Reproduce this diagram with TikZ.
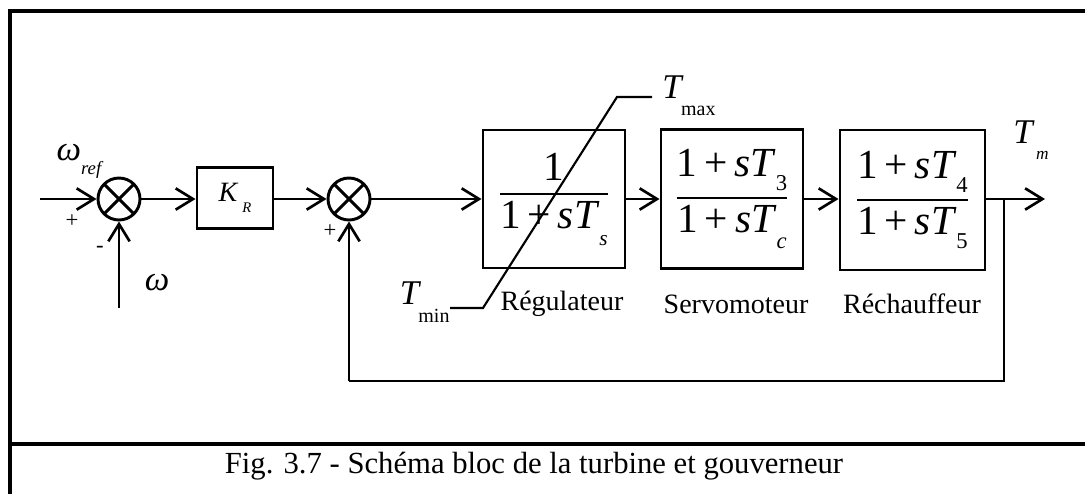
\documentclass[tikz,border=0pt]{standalone}
\usepackage{fontspec}
\setmainfont{Liberation Serif}
\usetikzlibrary{arrows.meta}
\newcommand\sbs[3][-0.3em]{\raisebox{#1}{\fontsize{#2}{#2}\selectfont #3}}
\newcommand\myfrac[2]{$\displaystyle{\mbox{#1}\above1.5pt\mbox{#2}}$}
\begin{document}
\begin{tikzpicture}[x=0.75pt,y=-0.75pt,
  line width=2.2pt,
  >={Straight Barb[length=13pt,width=16pt,line width=2pt]},
  blk/.style={draw,line width=2.2pt,inner sep=0pt,font=\fontsize{31}{34}\selectfont},
  sumc/.style={circle,draw,line width=2.2pt,minimum size=31.5pt,inner sep=0pt,
    path picture={\draw[line width=2.2pt] (path picture bounding box.north west)--(path picture bounding box.south east)
      (path picture bounding box.north east)--(path picture bounding box.south west);}},
  lbl/.style={font=\fontsize{21}{24}\selectfont,inner sep=0pt},
  sign/.style={font=\fontsize{17}{17}\selectfont,inner sep=0pt},
  big/.style={font=\fontsize{26}{26}\selectfont,inner sep=0pt},
  sat/.style={line width=1.6pt}]
\useasboundingbox (0,0) rectangle (1085,494);
% frame
\draw[line width=3pt] (10,494) -- (10,11) -- (1085,11);
\draw[line width=3pt] (10,444) -- (1085,444);
\node[font=\fontsize{23}{26}\selectfont,inner sep=0pt] (cap) at (534,466) {Fig. 3.7 - Schéma bloc de la turbine et gouverneur};
% nodes
\coordinate (in) at (40,199);
\coordinate (wst) at (119,308);
\node[sumc] (s1) at (119,199) {};
\node[draw,line width=2.2pt,minimum width=57pt,minimum height=45.75pt,inner sep=0pt] (kr) at (235,198)
  {\fontsize{21}{21}\selectfont\textit{K}\hspace{3pt}\sbs[-0.4em]{11pt}{\textit{R}}};
\node[sumc] (s2) at (349,199) {};
\node[blk,minimum width=106.5pt,minimum height=103.5pt] (reg) at (554,199)
  {\myfrac{1}{1\,+\,\textit{sT}\sbs[-0.4em]{16pt}{\textit{s}}}};
\node[blk,minimum width=106.5pt,minimum height=104pt] (srv) at (732,199)
  {\myfrac{1\,+\,\textit{sT}\sbs[-0.35em]{17pt}{3}}{1\,+\,\textit{sT}\sbs[-0.4em]{17pt}{\textit{c}}}};
\node[blk,minimum width=108.75pt,minimum height=105pt] (rch) at (912.5,200)
  {\myfrac{1\,+\,\textit{sT}\sbs[-0.35em]{17pt}{4}}{1\,+\,\textit{sT}\sbs[-0.35em]{17pt}{5}}};
\coordinate (br) at (1004,199);
\coordinate (out) at (1045,199);
\coordinate (fb1) at (1004,381);
\coordinate (fb2) at (349,381);
% connectors
\draw[->] (in) -- (s1.west);
\draw[->] (wst) -- (s1.south);
\draw[->] (s1.east) -- (kr.west |- s1.east);
\draw[->] (kr.east |- s2.west) -- (s2.west);
\draw[->] (s2.east) -- (reg.west);
\draw[->] (reg.east) -- (srv.west);
\draw[->] (srv.east) -- (rch.west |- srv.east);
\draw[->] (rch.east |- br) -- (out);
\draw (br) -- (fb1) -- (fb2);
\draw[->] (fb2) -- (s2.south);
% signs and signal labels
\node[big] (wref) at (80,161) {\textit{ω}\sbs[-0.4em]{14pt}{\textit{ref}}};
\node[sign] (p1) at (72,221) {+};
\node[sign] (m1) at (100,249) {-};
\node[big] (w) at (157,283) {\textit{ω}};
\node[sign] (p2) at (330,231) {+};
\node[big,anchor=west] (tm) at (1012,140) {\textit{T}\hspace{1pt}\sbs[-0.45em]{13pt}{\textit{m}}};
% saturation
\coordinate (a1) at (450,308);
\coordinate (a2) at (483,308);
\coordinate (a3) at (617,97);
\coordinate (a4) at (652,97);
\draw[sat] (a1) -- (a2) -- (a3) -- (a4);
\node[big,anchor=east] (tmin) at (451,302) {\textit{T}\kern-2pt\sbs[-0.5em]{15pt}{min}};
\node[big,anchor=west] (tmax) at (661,96) {\textit{T}\kern-2pt\sbs[-0.5em]{15pt}{max}};
% block labels
\node[lbl] (lreg) at (562,304) {Régulateur};
\node[lbl] (lsrv) at (736,304) {Servomoteur};
\node[lbl] (lrch) at (912,304) {Réchauffeur};
\end{tikzpicture}
\end{document}
